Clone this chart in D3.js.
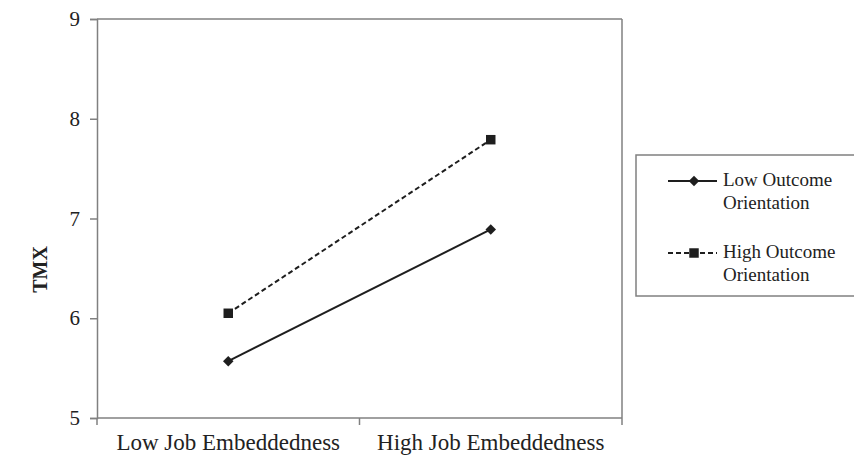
<!DOCTYPE html>
<html>
<head>
<meta charset="utf-8">
<script src="https://cdn.jsdelivr.net/npm/d3@7"></script>
<style>
  html, body { margin: 0; padding: 0; background: #fff; }
  svg { display: block; font-family: "Liberation Serif", "Times New Roman", serif; }
</style>
</head>
<body>
<svg id="chart" width="854" height="456"></svg>
<script>
const categories = ["Low Job Embeddedness", "High Job Embeddedness"];
const seriesNames = ["Low Outcome Orientation", "High Outcome Orientation"];
const lowOutcome = [5.57, 6.89];
const highOutcome = [6.05, 7.79];
const yTicks = [5, 6, 7, 8, 9];
const yLabel = "TMX";

const svg = d3.select("#chart");
const plot = { left: 97, right: 622, top: 19, bottom: 418 };

const x = d3.scalePoint().domain(categories).range([plot.left, plot.right]).padding(0.5);
const y = d3.scaleLinear().domain([5, 9]).range([plot.bottom, plot.top]);

const axisColor = "#808080";
const textColor = "#222";

// plot frame (top & right)
svg.append("line").attr("x1", plot.left).attr("x2", plot.right).attr("y1", plot.top).attr("y2", plot.top)
  .attr("stroke", axisColor).attr("stroke-width", 1.5);
svg.append("line").attr("x1", plot.right).attr("x2", plot.right).attr("y1", plot.top).attr("y2", plot.bottom)
  .attr("stroke", axisColor).attr("stroke-width", 1.5);

// y axis
const yAxis = svg.append("g").attr("transform", `translate(${plot.left},0)`)
  .call(d3.axisLeft(y).tickValues(yTicks).tickFormat(d3.format("d")).tickSizeOuter(0).tickSize(7).tickPadding(10));
yAxis.select(".domain").attr("stroke", axisColor).attr("stroke-width", 1.5);
yAxis.selectAll(".tick line").attr("stroke", axisColor).attr("stroke-width", 1.5);
yAxis.selectAll(".tick text").attr("fill", textColor).attr("font-size", 21)
  .attr("font-family", "Liberation Serif, serif");

// x axis: ticks at band boundaries, labels at category centers
const xBase = svg.append("g").attr("transform", `translate(0,${plot.bottom})`);
xBase.append("line").attr("x1", plot.left).attr("x2", plot.right)
  .attr("stroke", axisColor).attr("stroke-width", 1.5);
const step = x.step();
const boundaries = [plot.left].concat(categories.map(c => x(c) + step / 2));
xBase.selectAll("line.tk").data(boundaries).join("line").attr("class", "tk")
  .attr("x1", d => d).attr("x2", d => d).attr("y1", 0).attr("y2", 7)
  .attr("stroke", axisColor).attr("stroke-width", 1.5);
xBase.selectAll("text.lbl").data(categories).join("text").attr("class", "lbl")
  .attr("x", d => x(d)).attr("y", 32).attr("text-anchor", "middle")
  .attr("font-size", 23).attr("fill", textColor).text(d => d);

// y label
svg.append("text").attr("transform", `translate(47,${(plot.top + plot.bottom) / 2 + 51}) rotate(-90)`)
  .attr("text-anchor", "middle").attr("font-weight", "bold").attr("font-size", 20)
  .attr("fill", textColor).text(yLabel);

// lines
const lineGen = d3.line().x((d, i) => x(categories[i])).y(d => y(d));
const lineColor = "#1e1e1e";
svg.append("path").datum(lowOutcome).attr("d", lineGen).attr("fill", "none")
  .attr("stroke", lineColor).attr("stroke-width", 2);
svg.append("path").datum(highOutcome).attr("d", lineGen).attr("fill", "none")
  .attr("stroke", lineColor).attr("stroke-width", 2).attr("stroke-dasharray", "5,3");

const diamond = d3.symbol().type(d3.symbolDiamond2).size(70);
const square = d3.symbol().type(d3.symbolSquare).size(90);

svg.selectAll("path.dm").data(lowOutcome).join("path").attr("class", "dm")
  .attr("d", diamond).attr("transform", (d, i) => `translate(${x(categories[i])},${y(d)})`)
  .attr("fill", lineColor);
svg.selectAll("path.sq").data(highOutcome).join("path").attr("class", "sq")
  .attr("d", square).attr("transform", (d, i) => `translate(${x(categories[i])},${y(d)})`)
  .attr("fill", lineColor);

// legend
const leg = svg.append("g");
leg.append("rect").attr("x", 636).attr("y", 155).attr("width", 230).attr("height", 141)
  .attr("fill", "#fff").attr("stroke", axisColor).attr("stroke-width", 1.5);
const legItems = [
  { name: seriesNames[0], dash: null, sym: diamond, y: 181 },
  { name: seriesNames[1], dash: "5,3", sym: square, y: 253 }
];
legItems.forEach(it => {
  leg.append("line").attr("x1", 668).attr("x2", 717).attr("y1", it.y).attr("y2", it.y)
    .attr("stroke", lineColor).attr("stroke-width", 2).attr("stroke-dasharray", it.dash);
  leg.append("path").attr("d", it.sym).attr("transform", `translate(694,${it.y})`).attr("fill", lineColor);
  const words = it.name.split(" ");
  const t = leg.append("text").attr("x", 723).attr("y", it.y + 5).attr("font-size", 19).attr("fill", textColor);
  t.append("tspan").attr("x", 723).attr("dy", 0).text(words.slice(0, 2).join(" "));
  t.append("tspan").attr("x", 723).attr("dy", 23).text(words.slice(2).join(" "));
});
</script>
</body>
</html>
